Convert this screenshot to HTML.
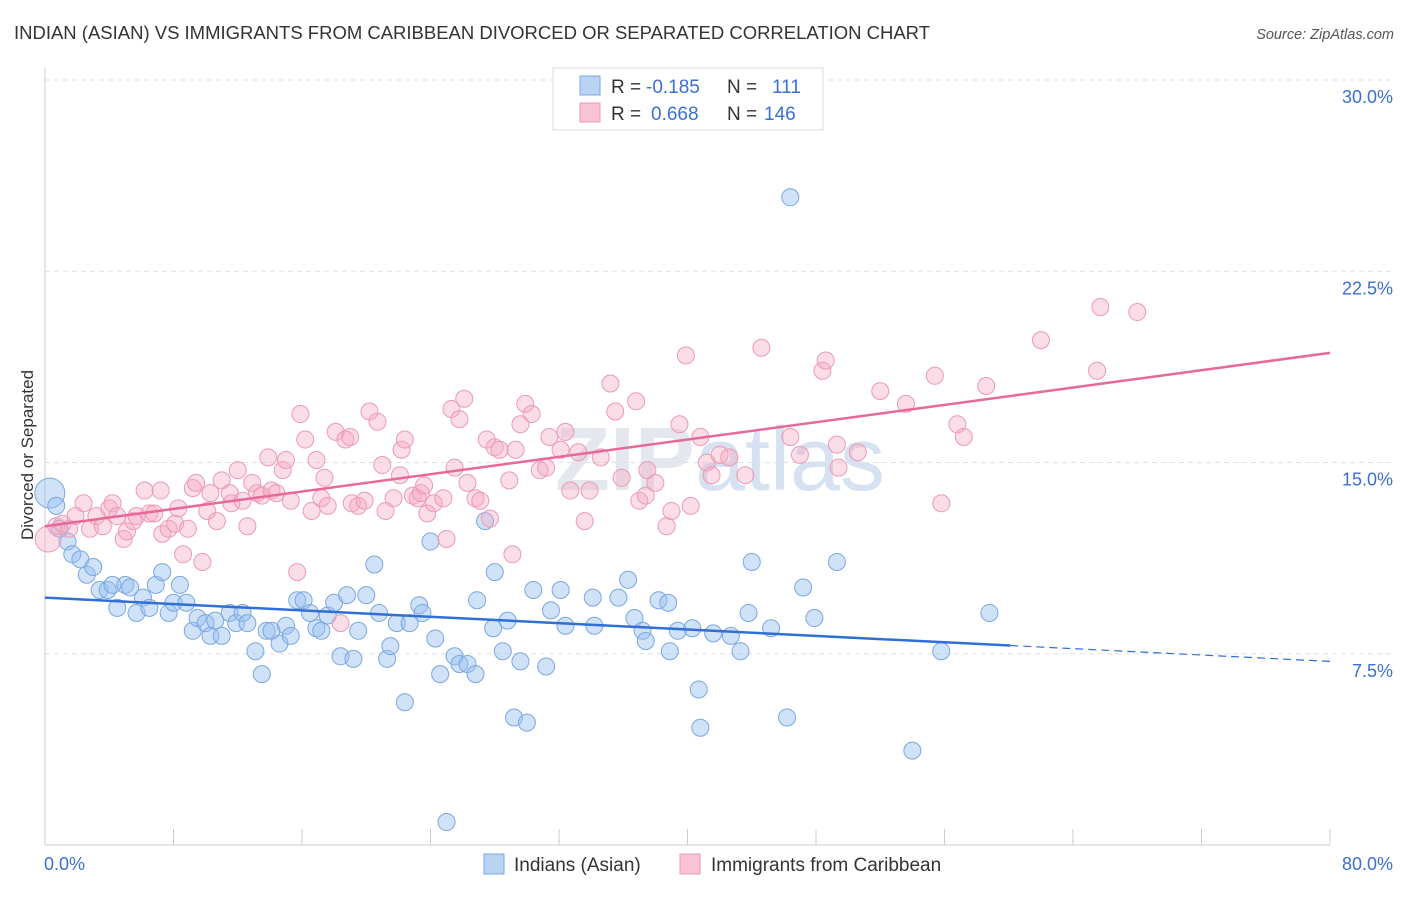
<!DOCTYPE html>
<html><head><meta charset="utf-8"><style>
body{margin:0;background:#fff;font-family:"Liberation Sans",sans-serif;}
svg text{font-family:"Liberation Sans",sans-serif;}
</style></head><body>
<svg id="chart" width="1406" height="892">
<text x="14" y="39" font-size="18" textLength="916" lengthAdjust="spacingAndGlyphs" fill="#333">INDIAN (ASIAN) VS IMMIGRANTS FROM CARIBBEAN DIVORCED OR SEPARATED CORRELATION CHART</text>
<text x="1394" y="39" font-size="14.5" fill="#555" font-style="italic" text-anchor="end">Source: ZipAtlas.com</text>
<text x="720" y="490" font-size="90" fill="#e4e8ee" text-anchor="middle" font-weight="bold">ZIP<tspan font-weight="normal" fill="#d6e2f2">atlas</tspan></text>
<g id="grid"></g><g id="axes"></g><g id="pts"></g><g id="lines"></g>
<text transform="translate(33,455) rotate(-90)" font-size="17" fill="#333" text-anchor="middle">Divorced or Separated</text>
<g>
<rect x="553" y="68" width="270" height="62" fill="#fff" stroke="#ddd"/>
<rect x="580" y="76" width="20" height="19" fill="#b9d3f3" stroke="#7aa7e0"/>
<rect x="580" y="103" width="20" height="19" fill="#f8c4d4" stroke="#ec9ab5"/>
<text x="611" y="93" font-size="19" fill="#333">R =</text>
<text x="646" y="93" font-size="19" fill="#3b6fd4">-0.185</text>
<text x="727" y="93" font-size="19" fill="#333">N =</text>
<text x="772" y="93" font-size="19" fill="#3b6fd4">111</text>
<text x="611" y="120" font-size="19" fill="#333">R =</text>
<text x="651" y="120" font-size="19" fill="#3b6fd4">0.668</text>
<text x="727" y="120" font-size="19" fill="#333">N =</text>
<text x="764" y="120" font-size="19" fill="#3b6fd4">146</text>
</g>
<g>
<rect x="484" y="854" width="20" height="20" fill="#b9d3f3" stroke="#7aa7e0"/>
<text x="514" y="871" font-size="19" fill="#333">Indians (Asian)</text>
<rect x="680" y="854" width="20" height="20" fill="#f8c4d4" stroke="#ec9ab5"/>
<text x="711" y="871" font-size="19" fill="#333">Immigrants from Caribbean</text>
</g>
</svg>
<script>
const yTicks=[7.5,15,22.5,30];
const yTickLabels=["7.5%","15.0%","22.5%","30.0%"];
const xTickVals=[0,8,16,24,32,40,48,56,64,72,80];
const blueX=[0.3,0.7,0.9,1.4,1.7,2.2,2.6,3.0,3.4,3.9,4.2,4.5,5.0,5.3,5.7,6.1,6.5,6.9,7.3,7.7,8.0,8.4,8.8,9.2,9.5,10.0,10.3,10.6,11.0,11.5,11.9,12.3,12.6,13.1,13.5,13.8,14.1,14.6,15.0,15.3,15.7,16.1,16.5,16.9,17.2,17.6,18.0,18.4,18.8,19.2,19.5,20.0,20.5,20.8,21.3,21.5,21.9,22.4,22.7,23.3,23.5,24.0,24.3,24.6,25.0,25.5,25.8,26.3,26.8,26.9,27.4,27.9,28.0,28.5,28.8,29.2,29.6,30.0,30.4,31.2,31.5,32.1,32.4,34.1,34.2,35.7,36.3,36.7,37.2,37.4,38.2,38.8,38.9,39.4,40.3,40.7,40.8,41.6,42.7,43.3,43.8,44.0,45.2,46.2,46.4,47.2,47.9,49.3,54.0,55.8,58.8];
const blueY=[13.8,13.3,12.4,11.9,11.4,11.2,10.6,10.9,10.0,10.0,10.2,9.3,10.2,10.1,9.1,9.7,9.3,10.2,10.7,9.1,9.5,10.2,9.5,8.4,8.9,8.7,8.2,8.8,8.2,9.1,8.7,9.1,8.7,7.6,6.7,8.4,8.4,7.9,8.6,8.2,9.6,9.6,9.1,8.5,8.4,9.0,9.5,7.4,9.8,7.3,8.4,9.8,11.0,9.1,7.3,7.8,8.7,5.6,8.7,9.4,9.1,11.9,8.1,6.7,0.9,7.4,7.1,7.1,6.7,9.6,12.7,8.5,10.7,7.6,8.8,5.0,7.2,4.8,10.0,7.0,9.2,10.0,8.6,9.7,8.6,9.7,10.4,8.9,8.4,8.0,9.6,9.5,7.6,8.4,8.5,6.1,4.6,8.3,8.2,7.6,9.1,11.1,8.5,5.0,25.4,10.1,8.9,11.1,3.7,7.6,9.1];
const pinkX=[0.2,0.7,1.1,1.5,1.9,2.4,2.8,3.2,3.6,4.0,4.2,4.5,4.9,5.1,5.5,5.7,6.2,6.5,6.8,7.2,7.3,7.7,8.1,8.3,8.6,8.9,9.2,9.4,9.8,10.1,10.3,10.7,11.0,11.5,11.6,12.0,12.3,12.6,12.9,13.2,13.5,13.9,14.1,14.4,14.8,15.0,15.3,15.7,15.9,16.2,16.6,16.9,17.2,17.4,17.6,18.1,18.4,18.7,19.0,19.1,19.5,19.9,20.2,20.7,21.0,21.2,21.7,22.1,22.2,22.4,22.9,23.2,23.4,23.6,23.8,24.2,24.8,25.0,25.3,25.5,25.8,26.1,26.3,26.8,27.1,27.5,27.7,28.0,28.3,28.9,29.1,29.3,29.6,29.9,30.3,30.8,31.2,31.4,32.1,32.4,32.7,33.2,33.6,33.9,34.6,35.2,35.5,35.9,36.8,37.0,37.4,37.5,38.0,38.7,39.0,39.5,39.9,40.2,40.8,41.2,41.5,42.0,42.6,43.6,44.6,46.4,47.0,48.4,48.6,49.3,49.4,50.6,52.0,53.6,55.4,55.8,56.8,57.2,58.6,62.0,65.5,65.7,68.0];
const pinkY=[12.0,12.5,12.6,12.4,12.9,13.4,12.4,12.9,12.5,13.2,13.4,12.9,12.0,12.3,12.7,12.9,13.9,13.0,13.0,13.9,12.2,12.4,12.6,13.2,11.4,12.4,14.0,14.2,11.1,13.1,13.8,12.7,14.3,13.8,13.4,14.7,13.5,12.5,14.2,13.8,13.7,15.2,13.9,13.8,14.7,15.1,13.5,10.7,16.9,15.9,13.1,15.1,13.6,14.4,13.3,16.2,8.7,15.9,16.0,13.4,13.3,13.5,17.0,16.6,14.9,13.1,13.6,14.5,15.5,15.9,13.7,13.6,13.8,14.1,13.0,13.4,13.6,12.0,17.1,14.8,16.7,17.5,14.2,13.6,13.5,15.9,12.8,15.6,15.5,14.3,11.4,15.5,16.5,17.3,16.9,14.7,14.8,16.0,15.5,16.2,13.9,15.4,12.7,13.9,15.2,18.1,17.0,14.4,17.4,13.5,13.7,14.7,14.2,12.5,13.1,16.5,19.2,13.3,16.0,15.0,14.5,15.3,15.2,14.5,19.5,16.0,15.3,18.6,19.0,15.7,14.8,15.4,17.8,17.3,18.4,13.4,16.5,16.0,18.0,19.8,18.6,21.1,20.9];
const blueTrend=[9.7,7.2], blueSolidEnd=60.1;
const pinkTrend=[12.5,19.3];
const L=45,R=1330,T=80,B=845;
const sx=v=>L+(v/80)*(R-L);
const sy=v=>B-(v/30)*(B-T);
const NS="http://www.w3.org/2000/svg";
function mk(tag,attrs,parent){const e=document.createElementNS(NS,tag);for(const k in attrs)e.setAttribute(k,attrs[k]);parent.appendChild(e);return e;}
const grid=document.getElementById('grid'),axes=document.getElementById('axes'),pts=document.getElementById('pts'),lines=document.getElementById('lines');
yTicks.forEach((t,i)=>{
 const g=mk('line',{x1:L,x2:1394,y1:sy(t),y2:sy(t),stroke:'#dde1e6','stroke-dasharray':'5,4'},grid);
 
 
 const tx=mk('text',{x:1393,y:sy(t)+23,'font-size':18,fill:'#3b6fd4','text-anchor':'end'},axes);
 tx.textContent=yTickLabels[i];
 
 
});
const ax=mk('line',{x1:L,x2:L,y1:68,y2:B,stroke:'#ccc'},axes);


const bx=mk('line',{x1:L,x2:R,y1:B,y2:B,stroke:'#ccc'},axes);


xTickVals.forEach(v=>{
 const t=mk('line',{x1:sx(v),x2:sx(v),y1:B,y2:B-16,stroke:'#ccc'},axes);
 
 
});
const xl0=mk('text',{x:44,y:870,'font-size':18,fill:'#3b6fd4'},axes);xl0.textContent='0.0%';


const xl1=mk('text',{x:1393,y:870,'font-size':18,fill:'#3b6fd4','text-anchor':'end'},axes);xl1.textContent='80.0%';


blueX.forEach((x,i)=>{
 const c=mk('circle',{cx:sx(x),cy:sy(blueY[i]),r:i===0?15:8.5,fill:'rgba(150,190,240,0.45)',stroke:'#7aa7e0','stroke-width':1},pts);
 
 
});
pinkX.forEach((x,i)=>{
 const c=mk('circle',{cx:sx(x),cy:sy(pinkY[i]),r:i===0?13:8.5,fill:'rgba(245,170,195,0.4)',stroke:'#ec9ab5','stroke-width':1},pts);
 
 
});
const by=x=>blueTrend[0]+(blueTrend[1]-blueTrend[0])*x/80;
const bl=mk('line',{x1:sx(0),y1:sy(by(0)),x2:sx(blueSolidEnd),y2:sy(by(blueSolidEnd)),stroke:'#2f6fd6','stroke-width':2.5},lines);


const bd=mk('line',{x1:sx(blueSolidEnd),y1:sy(by(blueSolidEnd)),x2:sx(80),y2:sy(by(80)),stroke:'#2f6fd6','stroke-width':1.2,'stroke-dasharray':'8,5'},lines);


const pl=mk('line',{x1:sx(0),y1:sy(pinkTrend[0]),x2:sx(80),y2:sy(pinkTrend[1]),stroke:'#e8689a','stroke-width':2.5},lines);


</script>
</body></html>
